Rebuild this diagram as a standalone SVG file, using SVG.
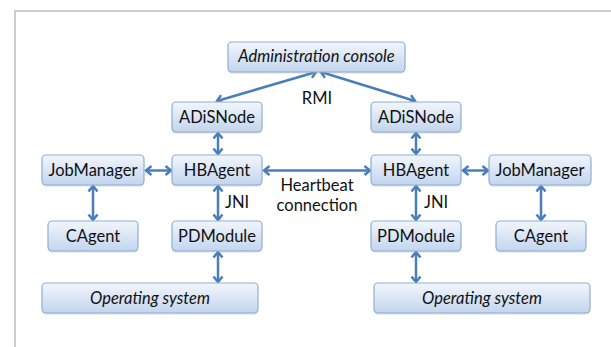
<svg xmlns="http://www.w3.org/2000/svg" width="611" height="347" viewBox="0 0 611 347">
<style>
.box{fill:url(#g);stroke:#8fadd4;stroke-width:1.2}
.sh{fill:#9a9a9a;opacity:0.35}
.t{font-family:Lato,"Open Sans",sans-serif;font-size:16.5px;fill:#111;text-anchor:middle}
.i{font-style:italic}
.c{stroke:#4a7ebb;stroke-width:2.5;fill:none;marker-start:url(#a);marker-end:url(#a)}
.lbl{font-family:Lato,"Open Sans",sans-serif;font-size:16.5px;fill:#111}
</style>
<defs>
<linearGradient id="g" x1="0" y1="0" x2="0" y2="1">
<stop offset="0" stop-color="#f2f6fc"/>
<stop offset="1" stop-color="#c2d5ee"/>
</linearGradient>
<marker id="a" viewBox="-8 -6 10 12" refX="0" refY="0" markerWidth="10" markerHeight="12" markerUnits="userSpaceOnUse" orient="auto-start-reverse">
<path d="M -5.5 -4.5 L 0 0 L -5.5 4.5" fill="none" stroke="#4a7ebb" stroke-width="2.5" stroke-linejoin="miter"/>
</marker>
</defs>
<rect width="611" height="347" fill="#fff"/>
<path d="M 15 347 V 11 H 611" fill="none" stroke="#bdbdbd" stroke-width="1.5"/>

<g id="connectors">
<line class="c" x1="217" y1="101" x2="316" y2="72"/>
<line class="c" x1="321" y1="72" x2="415" y2="101"/>
<line class="c" x1="218" y1="133" x2="218" y2="154"/>
<line class="c" x1="416" y1="133" x2="416" y2="154"/>
<line class="c" x1="218" y1="186" x2="218" y2="220"/>
<line class="c" x1="416" y1="186" x2="416" y2="220"/>
<line class="c" x1="218" y1="252" x2="218" y2="282"/>
<line class="c" x1="416" y1="252" x2="416" y2="282"/>
<line class="c" x1="93" y1="186" x2="93" y2="220"/>
<line class="c" x1="541" y1="186" x2="541" y2="220"/>
<line class="c" x1="146" y1="170.5" x2="171" y2="170.5"/>
<line class="c" x1="264" y1="170.5" x2="370" y2="170.5"/>
<line class="c" x1="463" y1="170.5" x2="488" y2="170.5"/>
<text class="lbl" x="317" y="104" text-anchor="middle">RMI</text>
<text class="lbl" x="225" y="208">JNI</text>
<text class="lbl" x="424" y="208">JNI</text>
<text class="lbl" x="317" y="191" text-anchor="middle">Heartbeat</text>
<text class="lbl" x="317" y="211" text-anchor="middle">connection</text>
</g>

<g id="admin">
<rect class="sh" x="228" y="43.5" width="177" height="30" rx="4"/>
<rect class="box" x="228" y="42" width="177" height="30" rx="4"/>
<text class="t i" x="316.5" y="62">Administration console</text>
</g>
<g id="adis-left">
<rect class="sh" x="172" y="103.5" width="90" height="30" rx="4"/>
<rect class="box" x="172" y="102" width="90" height="30" rx="4"/>
<text class="t" x="217" y="123">ADiSNode</text>
</g>
<g id="adis-right">
<rect class="sh" x="371" y="103.5" width="90" height="30" rx="4"/>
<rect class="box" x="371" y="102" width="90" height="30" rx="4"/>
<text class="t" x="416" y="123">ADiSNode</text>
</g>
<g id="jobmanager-left">
<rect class="sh" x="42" y="156.5" width="102" height="30" rx="4"/>
<rect class="box" x="42" y="155" width="102" height="30" rx="4"/>
<text class="t" x="93" y="176">JobManager</text>
</g>
<g id="hbagent-left">
<rect class="sh" x="172" y="156.5" width="90" height="30" rx="4"/>
<rect class="box" x="172" y="155" width="90" height="30" rx="4"/>
<text class="t" x="217" y="176">HBAgent</text>
</g>
<g id="hbagent-right">
<rect class="sh" x="371" y="156.5" width="90" height="30" rx="4"/>
<rect class="box" x="371" y="155" width="90" height="30" rx="4"/>
<text class="t" x="416" y="176">HBAgent</text>
</g>
<g id="jobmanager-right">
<rect class="sh" x="489" y="156.5" width="102" height="30" rx="4"/>
<rect class="box" x="489" y="155" width="102" height="30" rx="4"/>
<text class="t" x="540" y="176">JobManager</text>
</g>
<g id="cagent-left">
<rect class="sh" x="48" y="222.5" width="90" height="30" rx="4"/>
<rect class="box" x="48" y="221" width="90" height="30" rx="4"/>
<text class="t" x="93" y="242">CAgent</text>
</g>
<g id="pdmodule-left">
<rect class="sh" x="172" y="222.5" width="90" height="30" rx="4"/>
<rect class="box" x="172" y="221" width="90" height="30" rx="4"/>
<text class="t" x="217" y="242">PDModule</text>
</g>
<g id="pdmodule-right">
<rect class="sh" x="371" y="222.5" width="90" height="30" rx="4"/>
<rect class="box" x="371" y="221" width="90" height="30" rx="4"/>
<text class="t" x="416" y="242">PDModule</text>
</g>
<g id="cagent-right">
<rect class="sh" x="496" y="222.5" width="90" height="30" rx="4"/>
<rect class="box" x="496" y="221" width="90" height="30" rx="4"/>
<text class="t" x="541" y="242">CAgent</text>
</g>
<g id="os-left">
<rect class="sh" x="42" y="284.5" width="216" height="30" rx="4"/>
<rect class="box" x="42" y="283" width="216" height="30" rx="4"/>
<text class="t i" x="150" y="304">Operating system</text>
</g>
<g id="os-right">
<rect class="sh" x="374" y="284.5" width="216" height="30" rx="4"/>
<rect class="box" x="374" y="283" width="216" height="30" rx="4"/>
<text class="t i" x="482" y="304">Operating system</text>
</g>
</svg>
